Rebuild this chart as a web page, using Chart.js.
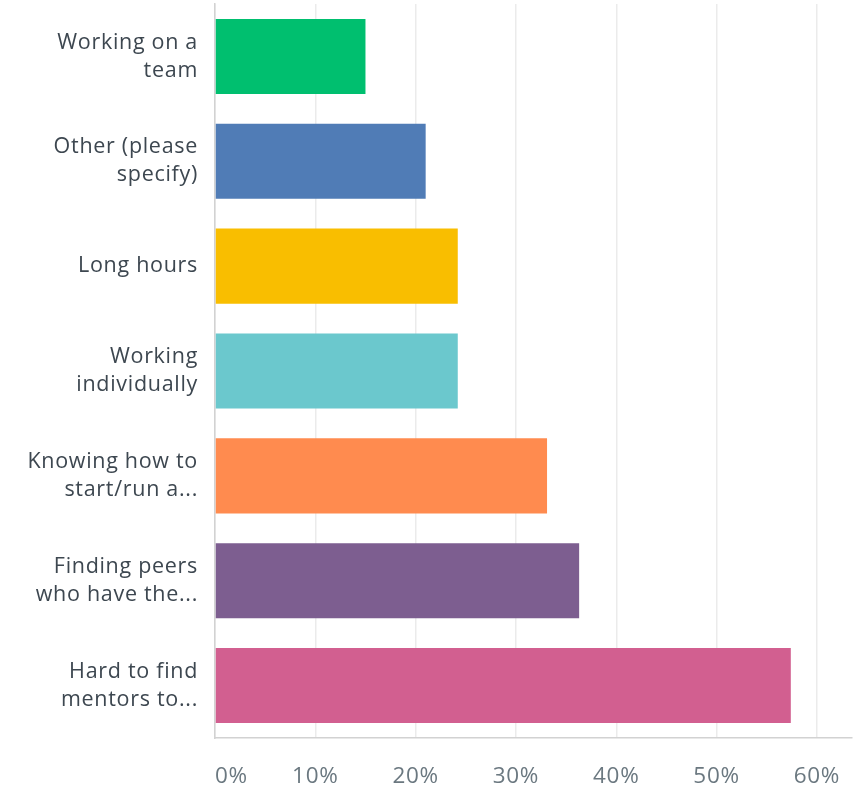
<!DOCTYPE html>
<html>
<head>
<meta charset="utf-8">
<script src="https://cdn.jsdelivr.net/npm/chart.js@4/dist/chart.umd.min.js"></script>
<style>
html,body{margin:0;padding:0;background:#fff;}
#wrap{width:854px;height:789px;}
</style>
</head>
<body>
<div id="wrap"><canvas id="c" width="854" height="789"></canvas></div>
<script>
const categories = [
  ["Working on a", "team"],
  ["Other (please", "specify)"],
  ["Long hours"],
  ["Working", "individually"],
  ["Knowing how to", "start/run a..."],
  ["Finding peers", "who have the..."],
  ["Hard to find", "mentors to..."]
];
const values = [15.0, 21.0, 24.2, 24.2, 33.1, 36.3, 57.4];
const barColors = ["#00BF6F", "#507CB6", "#F9BE00", "#6BC8CD", "#FF8B4F", "#7D5E90", "#D25F90"];
const tickValues = [0, 10, 20, 30, 40, 50, 60];
const axisMax = 63.5;

const spacing = {
  id: 'spacing',
  beforeInit(chart) { chart.ctx.letterSpacing = '0.7px'; },
  beforeDraw(chart) { chart.ctx.letterSpacing = '0.7px'; }
};

new Chart(document.getElementById('c'), {
  type: 'bar',
  plugins: [spacing],
  data: {
    labels: categories,
    datasets: [{
      data: values,
      backgroundColor: barColors,
      borderWidth: 0,
      barPercentage: 0.716,
      categoryPercentage: 1.0
    }]
  },
  options: {
    indexAxis: 'y',
    responsive: false,
    animation: false,
    layout: { padding: { top: 4, right: 2, left: 0, bottom: 0 } },
    plugins: { legend: { display: false }, tooltip: { enabled: false } },
    scales: {
      x: {
        min: 0,
        max: axisMax,
        afterBuildTicks: (s) => { s.ticks = tickValues.concat([axisMax]).map(v => ({ value: v })); },
        afterFit: (s) => { s.height = 51; s.paddingLeft = 0; s.paddingRight = 0; },
        grid: {
          color: (ctx) => (ctx.tick && ctx.tick.value === axisMax) ? 'rgba(0,0,0,0)' : '#ebebeb',
          lineWidth: 1.5,
          drawTicks: false
        },
        border: { display: true, color: '#d2d2d2', width: 1.5 },
        ticks: {
          padding: 25,
          align: 'inner',
          color: '#6b7880',
          font: { family: 'Open Sans', size: 22.5 },
          callback: (v) => v === axisMax ? '' : v + '%'
        }
      },
      y: {
        afterFit: (s) => { s.width = 215; s.paddingTop = 0; s.paddingBottom = 0; },
        grid: { display: false, drawTicks: false },
        border: { display: true, color: '#d2d2d2', width: 1.5 },
        ticks: {
          padding: 17,
          color: '#3d4750',
          font: { family: 'Open Sans', size: 21.5, lineHeight: 1.3 }
        }
      }
    }
  }
});
</script>
</body>
</html>
